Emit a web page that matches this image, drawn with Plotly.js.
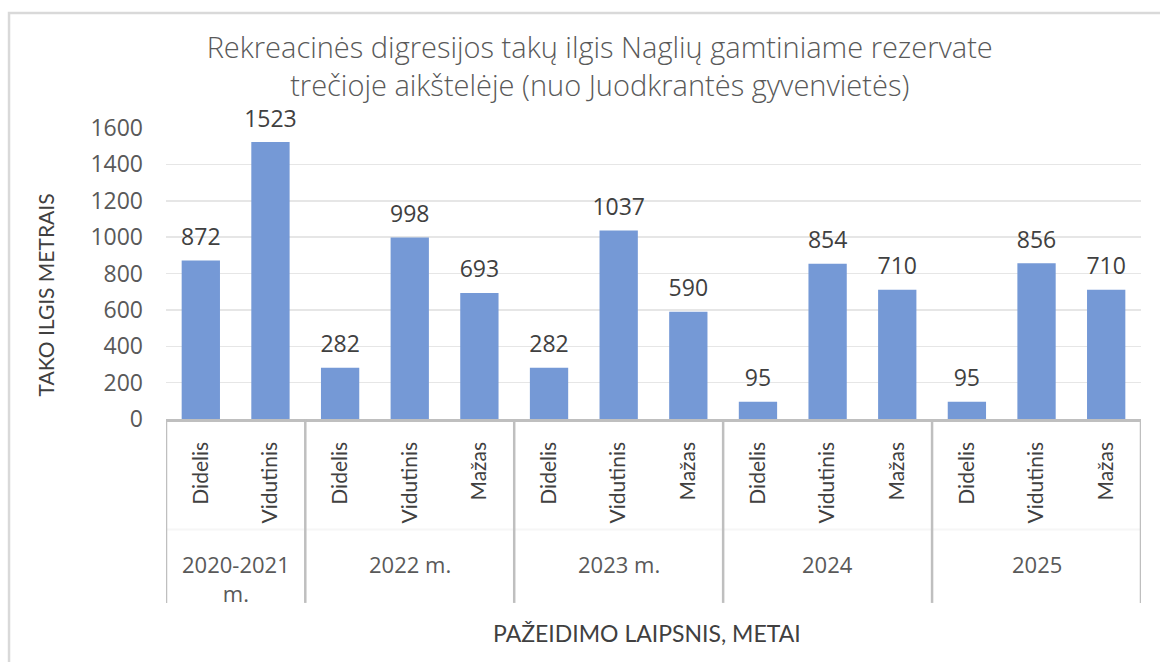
<!DOCTYPE html>
<html>
<head>
<meta charset="utf-8">
<script src="https://cdn.plot.ly/plotly-3.0.1.min.js"></script>
<style>
html,body{margin:0;padding:0;background:#fff;}
#chart{width:1160px;height:662px;}
</style>
</head>
<body>
<div id="chart"></div>
<script>
const groupLabels = ["2020-2021<br>m.", "2022 m.", "2023 m.", "2024", "2025"];
const levelLabels = [
  ["Didelis", "Vidutinis"],
  ["Didelis", "Vidutinis", "Mažas"],
  ["Didelis", "Vidutinis", "Mažas"],
  ["Didelis", "Vidutinis", "Mažas"],
  ["Didelis", "Vidutinis", "Mažas"]
];
const lengths = [
  [872, 1523],
  [282, 998, 693],
  [282, 1037, 590],
  [95, 854, 710],
  [95, 856, 710]
];
const yTicks = [0, 200, 400, 600, 800, 1000, 1200, 1400, 1600];

// flatten into unique category keys
const keys = [], innerText = [], yVals = [];
const groupCenters = [], boundaries = [-0.5];
let idx = 0;
groupLabels.forEach((g, i) => {
  const start = idx;
  levelLabels[i].forEach((l, j) => {
    keys.push("g" + i + "_" + l);
    innerText.push(l);
    yVals.push(lengths[i][j]);
    idx++;
  });
  groupCenters.push((start + idx - 1) / 2);
  boundaries.push(idx - 0.5);
});

const textGray = "#595959";
const darkGray = "#404040";
const axisGray = "#bfbfbf";

const bars = {
  type: "bar",
  x: keys,
  y: yVals,
  marker: {color: "#7599d6"},
  hoverinfo: "y"
};

const labels = {
  type: "scatter",
  mode: "markers+text",
  x: keys,
  y: yVals,
  text: yVals.map(String),
  textposition: "top center",
  marker: {size: 14, opacity: 0},
  cliponaxis: false,
  textfont: {family: "Open Sans, sans-serif", size: 23, color: darkGray},
  hoverinfo: "skip"
};

const annotations = [
  {
    text: "TAKO ILGIS METRAIS", textangle: -90,
    xref: "paper", yref: "paper", x: -0.124, y: 0.425,
    xanchor: "center", yanchor: "middle", showarrow: false,
    font: {family: "Lato, sans-serif", size: 21, color: darkGray}
  },
  {
    text: "PAŽEIDIMO LAIPSNIS, METAI",
    xref: "paper", yref: "paper", x: 0.493, y: -0.737,
    xanchor: "center", yanchor: "middle", showarrow: false,
    font: {family: "Lato, sans-serif", size: 23, color: darkGray}
  }
];
groupLabels.forEach((g, i) => {
  annotations.push({
    text: g,
    xref: "x", yref: "paper", x: groupCenters[i], y: -0.44,
    xanchor: "center", yanchor: "top", showarrow: false,
    font: {family: "Open Sans, sans-serif", size: 22, color: textGray}
  });
});

const shapes = [
  {
    type: "rect", xref: "paper", yref: "paper",
    x0: -0.161, x1: 1.03, y0: -0.9, y1: 1.395,
    line: {color: "#d9d9d9", width: 2.5}, fillcolor: "rgba(0,0,0,0)", layer: "below"
  },
  {
    type: "line", xref: "paper", yref: "paper",
    x0: 0, x1: 1, y0: -0.38, y1: -0.38,
    line: {color: "#f6f6f6", width: 2}, layer: "below"
  }
];
boundaries.forEach(b => {
  shapes.push({
    type: "line", xref: "x", yref: "paper",
    x0: b, x1: b, y0: 0, y1: -0.632,
    line: {color: axisGray, width: 2.5}
  });
});

const layout = {
  width: 1160,
  height: 662,
  margin: {l: 166, r: 19, t: 128, b: 243},
  paper_bgcolor: "#ffffff",
  plot_bgcolor: "#ffffff",
  showlegend: false,
  bargap: 0.45,
  title: {
    text: "Rekreacinės digresijos takų ilgis Naglių gamtiniame rezervate<br>trečioje aikštelėje (nuo Juodkrantės gyvenvietės)",
    font: {family: "Open Sans, sans-serif", size: 29, weight: 300, color: textGray},
    x: 0.517, xanchor: "center", xref: "container",
    y: 0.912, yanchor: "top", yref: "container"
  },
  xaxis: {
    type: "category",
    categoryorder: "array",
    categoryarray: keys,
    range: [-0.5, keys.length - 0.5],
    tickvals: keys,
    ticktext: innerText,
    tickangle: -90,
    tickfont: {family: "Lato, sans-serif", size: 21, color: darkGray},
    ticklabelstandoff: 12,
    showline: true, linecolor: axisGray, linewidth: 2.5,
    ticks: "", showgrid: false, zeroline: false,
    fixedrange: true
  },
  yaxis: {
    range: [0, 1600],
    tickvals: yTicks,
    ticktext: yTicks.map(String),
    tickfont: {family: "Open Sans, sans-serif", size: 23, color: textGray},
    showgrid: true, gridcolor: "#e6e6e6", gridwidth: 1.5,
    zeroline: false, showline: false, ticks: "",
    ticklabelstandoff: 22,
    fixedrange: true
  },
  annotations: annotations,
  shapes: shapes
};

Plotly.newPlot("chart", [bars, labels], layout, {displayModeBar: false, staticPlot: true});
</script>
</body>
</html>
